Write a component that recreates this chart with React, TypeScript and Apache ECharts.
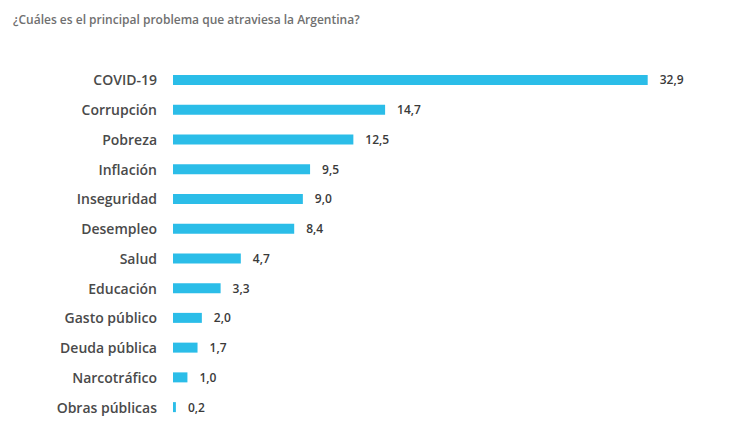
import React, { useEffect, useRef } from "react";
import * as echarts from "echarts";

const title = "¿Cuáles es el principal problema que atraviesa la Argentina?";
const categories = [
  "COVID-19",
  "Corrupción",
  "Pobreza",
  "Inflación",
  "Inseguridad",
  "Desempleo",
  "Salud",
  "Educación",
  "Gasto público",
  "Deuda pública",
  "Narcotráfico",
  "Obras públicas",
];
const values = [32.9, 14.7, 12.5, 9.5, 9.0, 8.4, 4.7, 3.3, 2.0, 1.7, 1.0, 0.2];

export default function App() {
  const ref = useRef<HTMLDivElement>(null);
  useEffect(() => {
    if (!ref.current) return;
    const chart = echarts.init(ref.current, null, { renderer: "svg" });
    chart.setOption({
      animation: false,
      backgroundColor: "#ffffff",
      title: {
        text: title,
        left: 8,
        top: 8,
        textStyle: { fontFamily: "Open Sans", fontSize: 12, fontWeight: 600, color: "#707070" },
      },
      grid: { left: 173, right: 72, top: 65, bottom: 15, containLabel: false },
      xAxis: {
        type: "value",
        min: 0,
        max: 35,
        show: false,
      },
      yAxis: {
        type: "category",
        data: categories,
        inverse: true,
        axisLine: { show: false },
        axisTick: { show: false },
        axisLabel: {
          margin: 16,
          fontFamily: "Open Sans",
          fontSize: 14,
          fontWeight: 600,
          color: "#4a4a4a",
        },
      },
      series: [
        {
          type: "bar",
          data: values,
          barWidth: 10,
          itemStyle: { color: "#2bbde8" },
          label: {
            show: true,
            position: "right",
            distance: 12,
            fontFamily: "Open Sans",
            fontSize: 12,
            fontWeight: 600,
            color: "#3a3a3a",
            formatter: (p: any) => p.value.toFixed(1).replace(".", ","),
          },
        },
      ],
    });
    return () => chart.dispose();
  }, []);
  return <div ref={ref} style={{ width: 750, height: 437, position: "absolute", left: 0, top: 0 }} />;
}
